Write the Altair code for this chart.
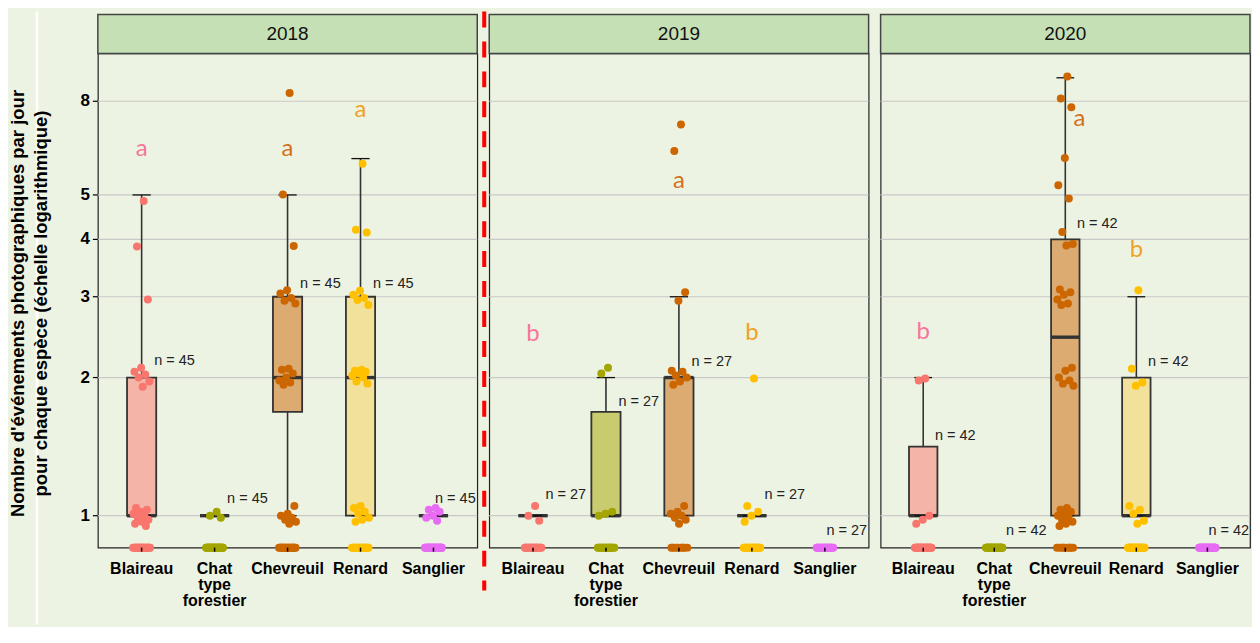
import altair as alt
import pandas as pd

# ---------------- data ----------------
species = ["Blaireau", "Chat type forestier", "Chevreuil", "Renard", "Sanglier"]
species_labels = ["Blaireau", "Chat|type|forestier", "Chevreuil", "Renard", "Sanglier"]
years = ["2018", "2019", "2020"]
n_days = [45, 27, 42]
y_title = ["Nombre d'événements photographiques par jour",
           "pour chaque espèce  (échelle logarithmique)"]

# positive daily counts (jitter included); the other days are zeros
pos_2018 = [
    [4.85, 3.86, 2.96, 2.10, 2.06, 2.03, 2.00, 1.96, 1.91, 1.04, 1.03, 1.02, 1.01, 1.00, 0.99, 0.98, 0.97, 0.96, 0.95],
    [1.02, 1.00, 0.99],
    [8.34, 5.01, 3.87, 3.10, 3.05, 2.98, 2.94, 2.90, 2.09, 2.08, 2.04, 2.00, 1.97, 1.95, 1.93, 1.05, 1.01, 1.00, 0.99, 0.98, 0.97, 0.96],
    [5.85, 4.20, 4.14, 3.09, 3.03, 2.98, 2.95, 2.88, 2.08, 2.07, 2.06, 2.04, 2.02, 2.00, 1.96, 1.94, 1.05, 1.04, 1.02, 1.01, 0.99, 0.98, 0.97],
    [1.04, 1.03, 1.02, 1.00, 0.99, 0.975],
]
pos_2019 = [
    [1.05, 1.00, 0.975],
    [2.10, 2.04, 1.02, 1.01, 1.00],
    [7.12, 6.23, 3.07, 2.94, 2.07, 2.06, 2.02, 2.00, 1.96, 1.93, 1.05, 1.02, 1.01, 1.00, 0.99, 0.98, 0.96],
    [1.99, 1.05, 1.02, 1.00, 0.97],
    [],
]
pos_2020 = [
    [1.99, 1.97, 1.00, 0.98, 0.96],
    [],
    [9.06, 8.11, 7.76, 6.02, 5.25, 4.91, 4.15, 3.91, 3.88, 3.11, 3.07, 3.03, 2.96, 2.90, 2.88, 2.10, 2.07, 2.00, 1.97, 1.94, 1.92,
     1.04, 1.03, 1.02, 1.01, 1.00, 0.99, 0.98, 0.97, 0.96, 0.95],
    [3.10, 2.09, 1.95, 1.92, 1.05, 1.03, 1.01, 0.975, 0.96],
    [],
]
positives = [pos_2018, pos_2019, pos_2020]

# box statistics (lower whisker, Q1, median, Q3, upper whisker)
box_lo = [[1, 1, 1, 1, 1], [1, 1, 1, 1, None], [1, None, 1, 1, None]]
box_q1 = [[1, 1, 1.683, 1, 1], [1, 1, 1, 1, None], [1, None, 1, 1, None]]
box_med = [[1, 1, 2, 2, 1], [1, 1, 2, 1, None], [1, None, 2.449, 1, None]]
box_q3 = [[2, 1, 3, 3, 1], [1, 1.683, 2, 1, None], [1.414, None, 4, 2, None]]
box_hi = [[5, 1, 5, 6, 1], [1, 2, 3, 1, None], [2, None, 9, 3, None]]

# "n = .." label heights
n_label_y = [[2.17, 1.09, 3.20, 3.20, 1.09], [1.11, 1.77, 2.16, 1.11, 0.924], [1.49, 0.928, 4.33, 2.16, 0.928]]

# significance letters and their heights
letters = [["a", None, "a", "a", None], ["b", None, "a", "b", None], ["b", None, "a", "b", None]]
letter_y = [[6.07, None, 6.07, 7.39, None], [2.40, None, 5.17, 2.41, None], [2.43, None, 7.06, 3.67, None]]

point_colors = ["#F8766D", "#A3A500", "#CC6600", "#FFC000", "#E76BF3"]
fill_colors = ["#f4b4a8", "#c8cc6e", "#dbab72", "#f2e19b", "#f0bff0"]
letter_colors = ["#f7759a", "#A3A500", "#d4701a", "#f0a228", "#E76BF3"]

Y_MIN, Y_MAX = 0.852, 10.17
Y_TICKS = [1, 2, 3, 4, 5, 8]
H = 495
WIDTHS = [380, 380, 370]
BG = "#edf3e2"

# ---------------- tables ----------------
prow = []
for yi, year in enumerate(years):
    for si, sp in enumerate(species):
        vals = positives[yi][si]
        for v in vals:
            prow.append((year, sp, si + 1, v, point_colors[si]))
        for _ in range(n_days[yi] - len(vals)):
            prow.append((year, sp, si + 1, 0.0, point_colors[si]))
points_df = pd.DataFrame(prow, columns=["year", "sp", "si", "v", "pcol"])

srow = []
for yi, year in enumerate(years):
    for si, sp in enumerate(species):
        srow.append(dict(
            year=year, sp=sp, si=si + 1, xlab=species_labels[si],
            lo=box_lo[yi][si], q1=box_q1[yi][si], med=box_med[yi][si],
            q3=box_q3[yi][si], hi=box_hi[yi][si],
            nlab=f"n = {n_days[yi]}", ny=n_label_y[yi][si],
            letter=letters[yi][si], ly=letter_y[yi][si],
            fcol=fill_colors[si], lcol=letter_colors[si],
        ))
summary_df = pd.DataFrame(srow)
tick_df = pd.DataFrame({"t": Y_TICKS, "tl": [str(t) for t in Y_TICKS]})

yscale = alt.Scale(type="log", domain=[Y_MIN, Y_MAX], nice=False)
xscale = alt.Scale(domain=[0.4, 5.6], nice=False, zero=False)


def Yq(field):
    return alt.Y(field, scale=yscale, axis=None)


def Xq(field):
    return alt.X(field, scale=xscale, axis=None)


def panel(yi):
    year = years[yi]
    W = WIDTHS[yi]
    first = yi == 0
    summ = summary_df[summary_df.year == year]
    pts = points_df[points_df.year == year]
    sbase = alt.Chart(summ)
    tbase = alt.Chart(tick_df)

    grid = tbase.mark_rule(color="#c9c9c9", strokeWidth=1.2).encode(y=Yq("t:Q"))

    valid = sbase.transform_filter("isValid(datum.q1)").transform_calculate(
        x1="datum.si - 0.2", x2="datum.si + 0.2", c1="datum.si - 0.125", c2="datum.si + 0.125"
    )
    boxes = valid.mark_rect(stroke="#333333", strokeWidth=1.8).encode(
        x=Xq("x1:Q"), x2="x2:Q", y=Yq("q1:Q"), y2="q3:Q",
        fill=alt.Color("fcol:N", scale=None),
    )
    whisk_up = valid.mark_rule(color="#333333", strokeWidth=1.6).encode(
        x=Xq("si:Q"), y=Yq("q3:Q"), y2="hi:Q")
    whisk_lo = valid.mark_rule(color="#333333", strokeWidth=1.6).encode(
        x=Xq("si:Q"), y=Yq("lo:Q"), y2="q1:Q")
    cap_up = valid.mark_rule(color="#111111", strokeWidth=1.3).encode(
        x=Xq("c1:Q"), x2="c2:Q", y=Yq("hi:Q"))
    cap_lo = valid.mark_rule(color="#111111", strokeWidth=1.3).encode(
        x=Xq("c1:Q"), x2="c2:Q", y=Yq("lo:Q"))
    median = valid.mark_rule(color="#333333", strokeWidth=3.4).encode(
        x=Xq("x1:Q"), x2="x2:Q", y=Yq("med:Q"))

    points = alt.Chart(pts).transform_window(
        rn="row_number()", groupby=["sp"]
    ).transform_calculate(
        xj="datum.si + ((datum.rn * 0.618034) % 1 - 0.5) * 0.24",
        yv=f"max(datum.v, {Y_MIN})",
    ).mark_circle(size=64, opacity=1).encode(
        x=Xq("xj:Q"), y=Yq("yv:Q"),
        color=alt.Color("pcol:N", scale=None),
    )

    nlabels = sbase.transform_calculate(
        nx="datum.si < 5 ? datum.si + 0.45 : 5.3"
    ).mark_text(fontSize=14.5, color="#222222", baseline="middle", align="center").encode(
        x=Xq("nx:Q"), y=Yq("ny:Q"), text="nlab:N",
    )

    letter_layer = sbase.transform_filter("isValid(datum.letter)").transform_calculate(
        lx="datum.si + (isValid(datum.hi) && datum.ly < datum.hi ? 0.2 : 0)"
    ).mark_text(fontSize=24, font="Lato", baseline="alphabetic", align="center").encode(
        x=Xq("lx:Q"), y=Yq("ly:Q"), text="letter:N",
        color=alt.Color("lcol:N", scale=None),
    )

    # x ticks and category labels under the panel
    xticks = sbase.mark_rule(color="black", strokeWidth=1.5).encode(
        x=Xq("si:Q"), y=alt.value(H), y2=alt.value(H + 4))
    xlabels = sbase.mark_text(
        fontSize=16, fontWeight="bold", color="black", baseline="top", align="center",
        lineBreak="|", lineHeight=16,
    ).encode(x=Xq("si:Q"), y=alt.value(H + 13), text="xlab:N")

    one = alt.Chart(pd.DataFrame({"year": [year]}))
    strip = one.mark_rect(fill="#c5e0b4", stroke="#444444", strokeWidth=1.5).encode(
        x=alt.value(0), x2=alt.value(W), y=alt.value(-39), y2=alt.value(0))
    strip_text = one.mark_text(fontSize=19, color="#111111", baseline="middle", align="center").encode(
        x=alt.value(W / 2), y=alt.value(-19.5), text="year:N")

    layers = [grid, boxes, whisk_up, whisk_lo, median, cap_up, cap_lo, points, nlabels,
              letter_layer, xticks, xlabels, strip, strip_text]
    if first:
        white = one.mark_rule(color="white", strokeWidth=2.5).encode(
            x=alt.value(-61), y=alt.value(-42), y2=alt.value(572))
        yticks = tbase.mark_rule(color="black", strokeWidth=1.2).encode(
            x=alt.value(-5), x2=alt.value(0), y=Yq("t:Q"))
        ylabels = tbase.mark_text(fontSize=17, fontWeight="bold", color="black",
                                  align="right", baseline="middle").encode(
            x=alt.value(-8), y=Yq("t:Q"), text="tl:N")
        title_df = pd.DataFrame({"line": y_title, "k": [0, 1]})
        tline1 = alt.Chart(title_df[title_df.k == 0]).mark_text(
            fontSize=18.5, fontWeight="bold", color="black", angle=270,
            align="center", baseline="middle").encode(
            x=alt.value(-79.5), y=alt.value(H / 2 + 3), text="line:N")
        tline2 = alt.Chart(title_df[title_df.k == 1]).mark_text(
            fontSize=18.5, fontWeight="bold", color="black", angle=270,
            align="center", baseline="middle").encode(
            x=alt.value(-57), y=alt.value(H / 2 + 3), text="line:N")
        red = one.mark_rule(color="#ff0000", strokeWidth=4, strokeDash=[16, 14]).encode(
            x=alt.value(W + 7), y=alt.value(-42), y2=alt.value(538))
        layers = [white] + layers + [yticks, ylabels, tline1, tline2, red]
    return alt.layer(*layers).properties(width=W, height=H)


chart = alt.hconcat(*[panel(i) for i in range(3)], spacing=12, bounds="flush").properties(
    background=BG, padding=0
).configure(font="Liberation Sans").configure_view(stroke="#222222", strokeWidth=1.2)

chart.save("out.html", embed_options={"renderer": "svg", "actions": False})
